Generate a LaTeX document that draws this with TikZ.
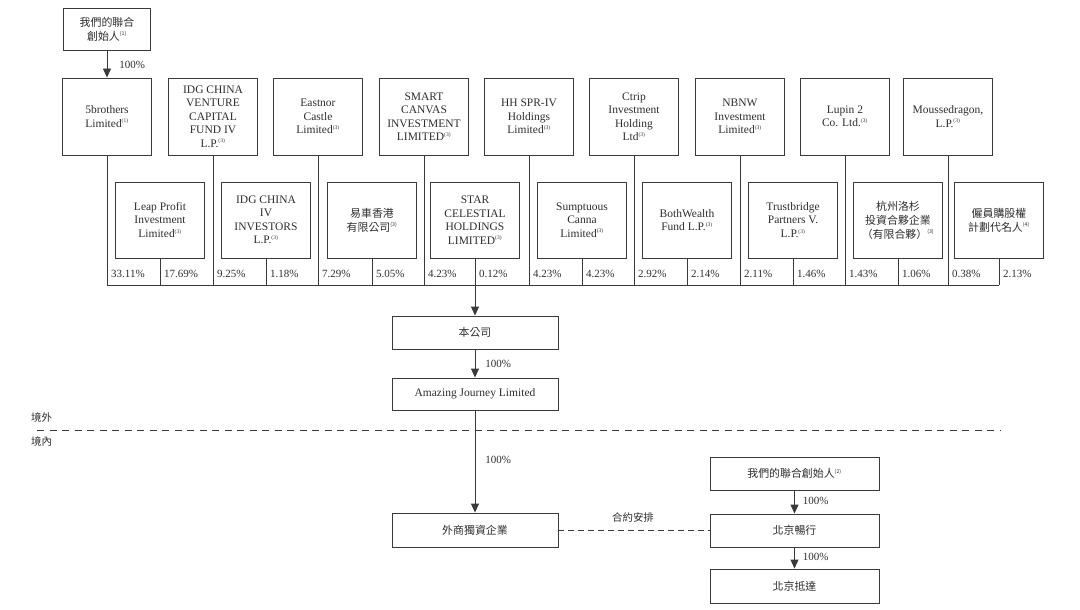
\documentclass[tikz,border=0pt]{standalone}
\usepackage{fontspec}
\setmainfont{Liberation Serif}
\newfontfamily\cjk{Noto Sans CJK TC}[Scale=0.95]
\usetikzlibrary{arrows.meta}
\definecolor{linec}{HTML}{3A3A3A}
\definecolor{txt}{HTML}{2E2E2E}
\newcommand\fnote[1]{\textsuperscript{\fontsize{5.5}{6}\selectfont(#1)}}
\begin{document}
\begin{tikzpicture}[x=1pt,y=-1pt,
  box/.style={draw=linec, line width=0.9pt, align=center, inner sep=1pt, text=txt,
              font=\fontsize{11.5}{13.5}\selectfont},
  cbox/.style={box, font=\fontsize{11.5}{14}\selectfont\cjk},
  tbox/.style={minimum width=89pt, minimum height=77pt},
  sbox/.style={minimum width=89pt, minimum height=76pt},
  wbox/.style={minimum width=166pt},
  pct/.style={anchor=west, inner sep=0pt, text=txt, font=\fontsize{11}{13}\selectfont},
  lbl/.style={anchor=west, inner sep=0pt, text=txt, font=\fontsize{11}{13}\selectfont\cjk},
  ln/.style={draw=linec, line width=0.9pt},
  arr/.style={ln, -{Triangle[width=8pt,length=9pt]}},
]
\useasboundingbox (0,0) rectangle (1080,610);

% founders (top)
\node[cbox, minimum width=87pt, minimum height=42pt] (f1) at (107,29) {我們的聯合\\創始人\fnote{1}};

% top row
\node[box,tbox] (t1) at (107,116.5) {5brothers\\Limited\fnote{1}};
\node[box,tbox] (t2) at (213,116.5) {IDG CHINA\\VENTURE\\CAPITAL\\FUND IV\\L.P.\fnote{3}};
\node[box,tbox] (t3) at (318,116.5) {Eastnor\\Castle\\Limited\fnote{3}};
\node[box,tbox] (t4) at (424,116.5) {SMART\\CANVAS\\INVESTMENT\\LIMITED\fnote{3}};
\node[box,tbox] (t5) at (529,116.5) {HH SPR-IV\\Holdings\\Limited\fnote{3}};
\node[box,tbox] (t6) at (634,116.5) {Ctrip\\Investment\\Holding\\Ltd\fnote{3}};
\node[box,tbox] (t7) at (740,116.5) {NBNW\\Investment\\Limited\fnote{3}};
\node[box,tbox] (t8) at (845,116.5) {Lupin 2\\Co. Ltd.\fnote{3}};
\node[box,tbox] (t9) at (948,116.5) {Moussedragon,\\L.P.\fnote{3}};

% second row
\node[box,sbox] (s1) at (160,220) {Leap Profit\\Investment\\Limited\fnote{3}};
\node[box,sbox] (s2) at (266,220) {IDG CHINA\\IV\\INVESTORS\\L.P.\fnote{3}};
\node[cbox,sbox] (s3) at (372,220) {易車香港\\有限公司\fnote{3}};
\node[box,sbox] (s4) at (475,220) {STAR\\CELESTIAL\\HOLDINGS\\LIMITED\fnote{3}};
\node[box,sbox] (s5) at (582,220) {Sumptuous\\Canna\\Limited\fnote{3}};
\node[box,sbox] (s6) at (687,220) {BothWealth\\Fund L.P.\fnote{3}};
\node[box,sbox] (s7) at (793,220) {Trustbridge\\Partners V.\\L.P.\fnote{3}};
\node[cbox,sbox] (s8) at (898,220) {杭州洛杉\\投資合夥企業\\（有限合夥）\fnote{3}};
\node[cbox,sbox] (s9) at (999,220) {僱員購股權\\計劃代名人\fnote{4}};

% bus
\coordinate (bus) at (107,285);
\foreach \n in {t1,t2,t3,t4,t5,t6,t7,t8,t9,s1,s2,s3,s5,s6,s7,s8,s9}
  \draw[ln] (\n.south) -- (\n.south |- bus);
\draw[ln] (t1.south |- bus) -- (s9.south |- bus);

% percentages
\foreach \n/\p in {t1/33.11\%, s1/17.69\%, t2/9.25\%, s2/1.18\%, t3/7.29\%, s3/5.05\%,
                   t4/4.23\%, s4/0.12\%, t5/4.23\%, s5/4.23\%, t6/2.92\%, s6/2.14\%,
                   t7/2.11\%, s7/1.46\%, t8/1.43\%, s8/1.06\%, t9/0.38\%, s9/2.13\%}
  \node[pct] (p\n) at ([xshift=4pt]\n.south |- 0,274) {\p};

% company chain
\node[cbox,wbox,minimum height=33pt] (co) at (475,332.5) {本公司};
\node[box,wbox,minimum height=32pt] (aj) at (475,394) {Amazing Journey Limited};
\node[cbox,wbox,minimum height=34pt] (wf) at (475,530) {外商獨資企業};

\draw[arr] (s4.south) -- (co.north);
\draw[arr] (co.south) -- (aj.north) node[pct, pos=0.5, xshift=10pt] (l1) {100\%};
\draw[arr] (aj.south) -- (wf.north) node[pct, pos=0.48, xshift=10pt] (l2) {100\%};
\draw[arr] (f1.south) -- (f1.south |- t1.north) node[pct, pos=0.55, xshift=12pt] (l0) {100\%};

% offshore / onshore
\coordinate (dl) at (37,430);
\coordinate (dr) at (1000,430);
\draw[ln, dash pattern=on 7pt off 5.5pt] (dl) -- (dr);
\node[lbl] (out) at (31,418) {境外};
\node[lbl] (in) at (31,442) {境內};

% domestic side
\node[cbox, minimum width=169pt, minimum height=33pt] (f2) at (794.5,473.5) {我們的聯合創始人\fnote{2}};
\node[cbox, minimum width=169pt, minimum height=33pt] (b1) at (794.5,530.5) {北京暢行};
\node[cbox, minimum width=169pt, minimum height=34pt] (b2) at (794.5,586) {北京抵達};

\draw[arr] (f2.south) -- (b1.north) node[pct, pos=0.45, xshift=8pt] (l3) {100\%};
\draw[arr] (b1.south) -- (b2.north) node[pct, pos=0.45, xshift=8pt] (l4) {100\%};

\draw[ln, dash pattern=on 6pt off 4pt] (wf.east) -- (wf.east -| b1.west);
\node[text=txt, font=\fontsize{11}{13}\selectfont\cjk, inner sep=0pt] (ca) at (633,518) {合約安排};
\end{tikzpicture}
\end{document}
